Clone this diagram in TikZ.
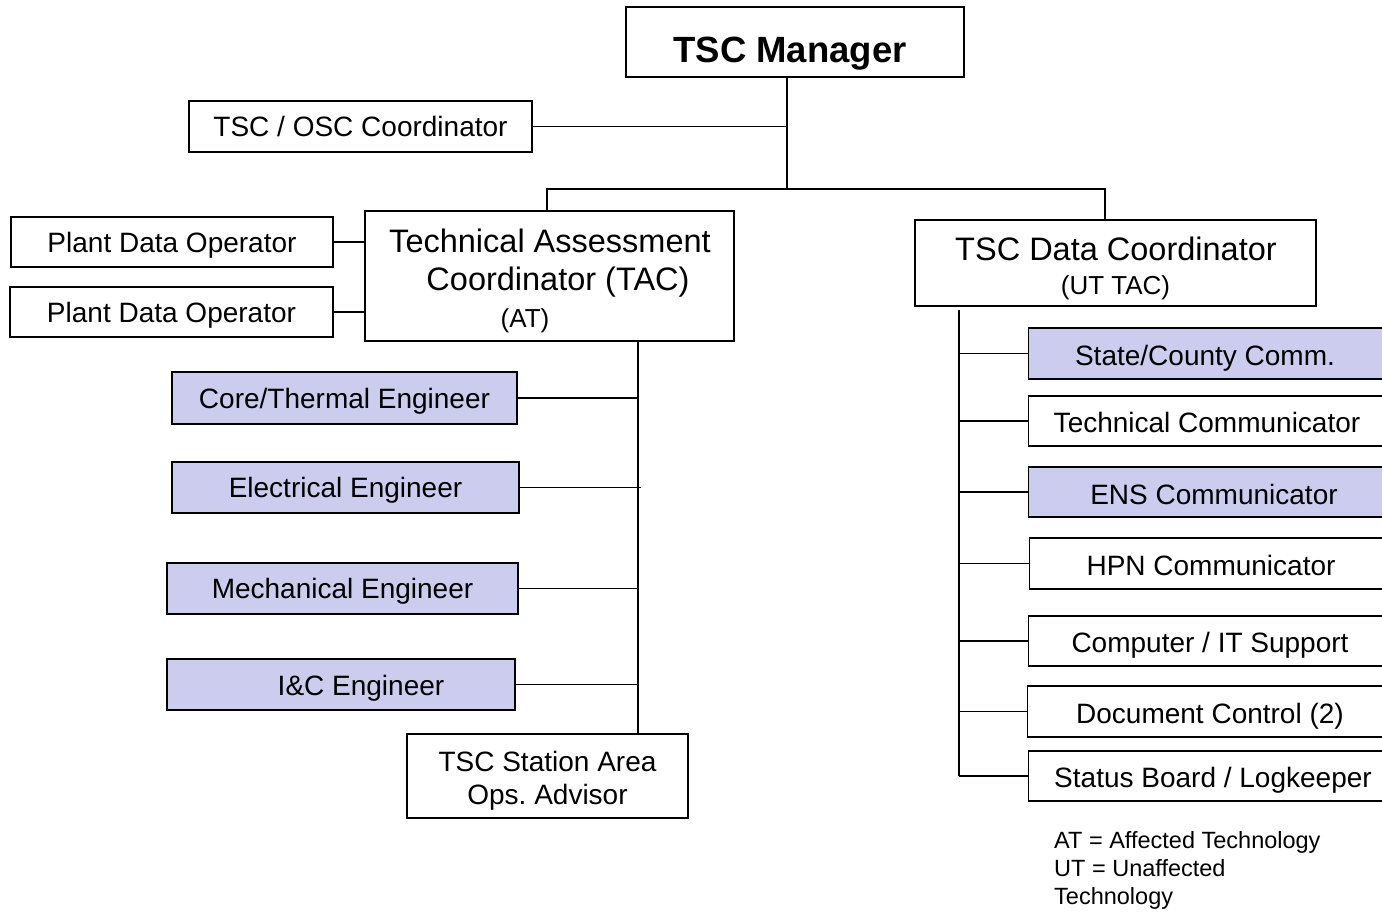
\documentclass[tikz,border=0pt]{standalone}
\usepackage{fontspec}
\setmainfont{Liberation Sans}
\usetikzlibrary{calc}
\definecolor{lav}{HTML}{CCCCEE}
\frenchspacing
\begin{document}
\begin{tikzpicture}[x=1pt,y=-1pt,
  fa/.style={font=\fontsize{28}{33}\selectfont,text height=20.4pt,text depth=0pt},
  fb/.style={font=\fontsize{32.5}{36}\selectfont,text height=23.7pt,text depth=0pt},
  fc/.style={font=\fontsize{26}{30}\selectfont,text height=19pt,text depth=0pt},
  box/.style={draw=black,line width=1.4pt,fill=white,inner sep=0pt,fa},
  hl/.style={box,fill=lav},
  conn/.style={draw=black,line width=1.4pt},
  txt/.style={inner sep=0pt,fa},
  mtxt/.style={inner sep=0pt}]
\useasboundingbox (0,0) rectangle (1382,911);
% top
\node[box,minimum width=338pt,minimum height=70pt] (mgr) at (795,42) {};
\node[txt,font=\fontsize{36.5}{40}\selectfont\bfseries,text height=26.6pt] (mgrtxt) at (790,49.5) {TSC Manager};
\node[box,minimum width=343pt,minimum height=51pt] (osc) at (360.5,126.5) {TSC / OSC Coordinator};
% TAC
\node[box,minimum width=369pt,minimum height=130pt] (tac) at (549.5,276) {};
\node[txt,fb] (tac1) at (550,241) {Technical Assessment};
\node[txt,fb] (tac2) at (558,278.5) {Coordinator (TAC)};
\node[txt,fc] (tac3) at (525,318) {(AT)};
\node[box,minimum width=322pt,minimum height=50pt] (pdo1) at (172,242) {Plant Data Operator};
\node[box,minimum width=323pt,minimum height=50pt] (pdo2) at (171.5,312) {Plant Data Operator};
\node[hl,minimum width=345pt,minimum height=52pt] (core) at (344.5,398) {Core/Thermal Engineer};
\node[hl,minimum width=347pt,minimum height=51pt] (elec) at (345.5,487.5) {Electrical Engineer};
\node[hl,minimum width=351pt,minimum height=51pt] (mech) at (342.5,588.5) {Mechanical Engineer};
\node[hl,minimum width=348pt,minimum height=51pt] (ic) at (341,684.5) {};
\node[txt] (ictxt) at (361,685) {I\&C Engineer};
\node[box,minimum width=281pt,minimum height=84pt] (sao) at (547.5,776) {};
\node[mtxt,align=center,font=\fontsize{28}{33}\selectfont] (saotxt) at (547.5,781) {TSC Station Area\\Ops. Advisor};
% TSC data coordinator
\node[box,minimum width=401pt,minimum height=86pt] (tdc) at (1115.5,263) {};
\node[txt,fb] (tdc1) at (1116,249) {TSC Data Coordinator};
\node[txt,fc] (tdc2) at (1115.5,285) {(UT TAC)};
\node[hl,minimum width=362pt,minimum height=51pt,anchor=west] (st) at (1028,353.5) {};
\node[txt] (sttxt) at (1205,355) {State/County Comm.};
\node[box,minimum width=362pt,minimum height=50pt,anchor=west] (tc) at (1028,421) {};
\node[txt] (tctxt) at (1207,422) {Technical Communicator};
\node[hl,minimum width=362pt,minimum height=50pt,anchor=west] (ens) at (1028,492) {};
\node[txt] (enstxt) at (1214,494) {ENS Communicator};
\node[box,minimum width=362pt,minimum height=51pt,anchor=west] (hpn) at (1029,563.5) {};
\node[txt] (hpntxt) at (1211,565) {HPN Communicator};
\node[box,minimum width=362pt,minimum height=50pt,anchor=west] (comp) at (1028,641) {};
\node[txt] (comptxt) at (1210,642) {Computer / IT Support};
\node[box,minimum width=363pt,minimum height=51pt,anchor=west] (doc) at (1027,711.5) {};
\node[txt] (doctxt) at (1210,713) {Document Control (2)};
\node[box,minimum width=362pt,minimum height=50pt,anchor=west] (sb) at (1028,776) {};
\node[txt] (sbtxt) at (1213,777) {Status Board / Logkeeper};
% legend
\node[mtxt,anchor=north west,align=left,font=\fontsize{23.5}{28}\selectfont] (leg) at (1054,831.5) {AT = Affected Technology\\UT = Unaffected\\Technology};
% connectors
\coordinate (mt) at (787,77);
\coordinate (bus) at (787,189);
\coordinate (bR) at (1105,189);
\coordinate (tt) at (638,341);
\coordinate (rt) at (959,310);
\draw[conn] (mt) -- (bus);
\draw[conn] (osc.east) -- (osc.east -| mt);
\draw[conn] (tac.north -| 547,0) |- (bR) -- (bR |- tdc.north);
\draw[conn] (pdo1.east) -- (pdo1.east -| tac.west);
\draw[conn] (pdo2.east) -- (pdo2.east -| tac.west);
\draw[conn] (tt) -- (tt |- sao.north);
\draw[conn] (core.east) -- (core.east -| tt);
\draw[conn] (elec.east) -- ($(elec.east -| tt)+(3,0)$);
\draw[conn] (mech.east) -- (mech.east -| tt);
\draw[conn] (ic.east) -- (ic.east -| tt);
\draw[conn] (rt) -- (rt |- sb.west);
\foreach \n in {st,tc,ens,hpn,comp,doc,sb} {\draw[conn] (\n.west) -- (\n.west -| rt);}
\end{tikzpicture}
\end{document}
